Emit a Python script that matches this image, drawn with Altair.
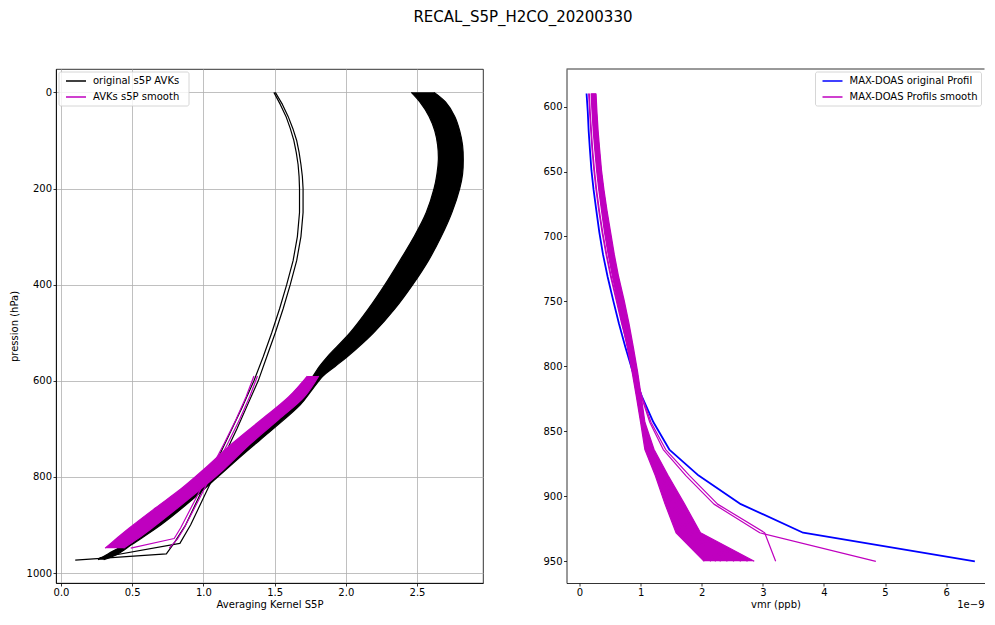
import altair as alt
import pandas as pd

# ---------------- left panel: averaging kernels ----------------
# dense bundle of original S5P AVKs (left and right envelope of the bundle)
band_p = [0, 20, 50, 80, 110, 140, 170, 200, 250, 300, 350, 400, 450, 500, 550, 570, 590,
          620, 650, 700, 750, 800, 850, 900, 940, 960, 972]
band_lo = [2.46, 2.52, 2.585, 2.625, 2.645, 2.65, 2.64, 2.62, 2.565, 2.48, 2.38, 2.275, 2.16, 2.03, 1.87, 1.815,
           1.77, 1.70, 1.62, 1.44, 1.24, 1.05, 0.86, 0.65, 0.45, 0.33, 0.26]
band_hi = [2.62, 2.70, 2.765, 2.80, 2.82, 2.825, 2.82, 2.80, 2.745, 2.67, 2.58, 2.47, 2.345, 2.195, 2.01, 1.925,
           1.84, 1.76, 1.68, 1.49, 1.29, 1.10, 0.91, 0.70, 0.50, 0.40, 0.30]

# two separate original AVKs
thinA_p = [0, 25, 50, 75, 100, 125, 150, 175, 200, 250, 300, 350, 400, 450, 500, 550, 600, 650, 700, 750,
           800, 850, 900, 935, 960, 973]
thinA_x = [1.495, 1.54, 1.58, 1.61, 1.635, 1.652, 1.665, 1.672, 1.675, 1.675, 1.66, 1.63, 1.585, 1.535, 1.48,
           1.42, 1.355, 1.28, 1.20, 1.12, 1.035, 0.955, 0.875, 0.80, 0.74, 0.10]
thinB_p = [0, 25, 50, 75, 100, 125, 150, 175, 200, 250, 300, 350, 400, 450, 500, 550, 600, 650, 700, 750,
           800, 850, 900, 938, 968]
thinB_x = [1.505, 1.555, 1.595, 1.628, 1.655, 1.672, 1.685, 1.695, 1.70, 1.70, 1.685, 1.655, 1.61, 1.56, 1.505,
           1.445, 1.385, 1.31, 1.235, 1.155, 1.07, 0.99, 0.91, 0.835, 0.27]

# smoothed AVKs on the MAX-DOAS grid (envelope of the dense bundle)
sband_p = [590, 633, 680, 731, 785, 823, 864, 906, 928, 948]
sband_lo = [1.73, 1.60, 1.41, 1.20, 1.00, 0.85, 0.665, 0.48, 0.39, 0.31]
sband_hi = [1.81, 1.71, 1.53, 1.33, 1.14, 0.99, 0.82, 0.64, 0.54, 0.44]

sthin_p = [590, 633, 680, 731, 785, 843, 906, 928, 948]
sthin1_x = [1.355, 1.30, 1.23, 1.145, 1.05, 0.95, 0.84, 0.795, 0.49]
sthin2_x = [1.38, 1.325, 1.255, 1.17, 1.075, 0.975, 0.865, 0.82, 0.76]

# ---------------- right panel: MAX-DOAS profiles (x 1e-9) ----------------
md_p = [590, 604, 619, 633, 649, 664, 680, 697, 714, 731, 749, 767, 785, 804, 823, 843, 864, 884, 906, 928, 950]
orig_vmr = [0.115, 0.135, 0.15, 0.17, 0.195, 0.23, 0.275, 0.325, 0.385, 0.46, 0.55, 0.645, 0.75, 0.87, 1.02, 1.21,
            1.47, 1.95, 2.64, 3.66, 6.47]
sm_o1 = [0.15, 0.165, 0.185, 0.205, 0.235, 0.27, 0.315, 0.37, 0.435, 0.51, 0.60, 0.69, 0.79, 0.89, 1.01, 1.15,
         1.37, 1.74, 2.20, 2.95, 4.85]
sm_o2 = [0.16, 0.175, 0.195, 0.215, 0.245, 0.28, 0.325, 0.38, 0.445, 0.52, 0.61, 0.70, 0.80, 0.90, 1.02, 1.17,
         1.41, 1.80, 2.26, 3.03, 3.21]
sm_m1 = [.19, .205, .225, .25, .28, .315, .36, .41, .47, .54, .62, .70, .78, .86, .93, 1.00, 1.07, 1.24, 1.40, 1.58, 2.04]
sm_m2 = [.20, .215, .235, .26, .29, .325, .37, .42, .48, .55, .635, .715, .79, .87, .94, 1.01, 1.09, 1.265, 1.44, 1.62, 2.15]
sm_m3 = [.21, .225, .245, .27, .30, .335, .38, .435, .495, .565, .65, .73, .805, .88, .95, 1.02, 1.11, 1.29, 1.48, 1.67, 2.23]
sm_m4 = [.22, .235, .255, .28, .31, .345, .39, .445, .505, .575, .66, .74, .815, .895, .96, 1.025, 1.13, 1.32, 1.52, 1.72, 2.31]
sm_m5 = [.23, .245, .265, .29, .32, .355, .405, .46, .52, .59, .675, .755, .83, .905, .97, 1.035, 1.145, 1.345, 1.56, 1.77, 2.42]
sm_m6 = [.24, .255, .275, .30, .33, .37, .415, .47, .53, .60, .69, .77, .84, .915, .98, 1.045, 1.165, 1.37, 1.60, 1.82, 2.53]
sm_m7 = [.25, .265, .285, .31, .34, .38, .43, .485, .545, .615, .70, .78, .855, .93, .99, 1.05, 1.185, 1.40, 1.64, 1.87, 2.64]
sm_m8 = [.26, .275, .295, .32, .35, .39, .44, .495, .555, .625, .715, .795, .865, .94, 1.00, 1.06, 1.20, 1.425, 1.68, 1.93, 2.75]
sm_m9 = [.27, .285, .305, .33, .36, .40, .45, .51, .57, .64, .73, .81, .88, .95, 1.01, 1.07, 1.22, 1.45, 1.72, 1.98, 2.86]

x_ticks_l = [0.0, 0.5, 1.0, 1.5, 2.0, 2.5]
y_ticks_l = [0, 200, 400, 600, 800, 1000]
x_ticks_r = [0, 1, 2, 3, 4, 5, 6]
y_ticks_r = [600, 650, 700, 750, 800, 850, 900, 950]

S_ORIG = "original s5P AVKs"
S_SMOOTH = "AVKs s5P smooth"
S_MD = "MAX-DOAS original Profil"
S_MDS = "MAX-DOAS Profils smooth"
MAG = "#bf00bf"
BLUE = "#0000ff"
FONT = "DejaVu Sans"

WL, WR, H = 427, 418, 514


def rows(series, ident, ps, xs):
    return [{"series": series, "id": ident, "p": p, "x": x} for p, x in zip(ps, xs)]


def one():
    return pd.DataFrame({"k": [0]})


def legend_layers(x0, w, entries):
    """matplotlib-like legend box drawn inside the plot (pixel offsets)."""
    layers = [alt.Chart(one()).mark_rect(fill="white", fillOpacity=0.8, stroke="#cccccc",
                                         strokeWidth=0.8, cornerRadius=2).encode(
        x=alt.value(x0), x2=alt.value(x0 + w), y=alt.value(3), y2=alt.value(37))]
    for i, (label, col) in enumerate(entries):
        yy = 12 + 16 * i
        layers.append(alt.Chart(one()).mark_rule(color=col, strokeWidth=1.5).encode(
            x=alt.value(x0 + 7), x2=alt.value(x0 + 27), y=alt.value(yy)))
        layers.append(alt.Chart(one()).mark_text(text=label, align="left", baseline="middle", font=FONT,
                                                 fontSize=10, color="black").encode(
            x=alt.value(x0 + 34), y=alt.value(yy)))
    return layers


black_lines = pd.DataFrame(
    rows(S_ORIG, "lo", band_p, band_lo) + rows(S_ORIG, "hi", band_p, band_hi))
black_thin = pd.DataFrame(rows(S_ORIG, "A", thinA_p, thinA_x) + rows(S_ORIG, "B", thinB_p, thinB_x))
mag_lines = pd.DataFrame(
    rows(S_SMOOTH, "slo", sband_p, sband_lo) + rows(S_SMOOTH, "shi", sband_p, sband_hi))
mag_thin = pd.DataFrame(rows(S_SMOOTH, "s1", sthin_p, sthin1_x) + rows(S_SMOOTH, "s2", sthin_p, sthin2_x))
band_df = pd.DataFrame({"p": band_p, "lo": band_lo, "hi": band_hi})
sband_df = pd.DataFrame({"p": sband_p, "lo": sband_lo, "hi": sband_hi})

xs_l = alt.Scale(domain=[-0.035, 2.9635], nice=False, zero=False)
ys_l = alt.Scale(domain=[-48.6, 1020.5], reverse=True, nice=False, zero=False)
ax_xl = alt.Axis(values=x_ticks_l, format=".1f", title="Averaging Kernel S5P", grid=True)
ax_yl = alt.Axis(values=y_ticks_l, format="d", title="pression (hPa)", grid=True, titlePadding=7)


def XL(f):
    return alt.X(f, type="quantitative", scale=xs_l, axis=ax_xl)


def YL(f):
    return alt.Y(f, type="quantitative", scale=ys_l, axis=ax_yl)


color_l = alt.Color("series:N", scale=alt.Scale(domain=[S_ORIG, S_SMOOTH], range=["black", MAG]), legend=None)

area_black = alt.Chart(band_df).mark_area(orient="horizontal", color="black", interpolate="catmull-rom").encode(
    y=YL("p"), x=XL("lo"), x2="hi")
line_black = alt.Chart(black_lines).mark_line(strokeWidth=1.2, interpolate="catmull-rom").encode(
    x=XL("x"), y=YL("p"), color=color_l, detail="id:N", order="p:Q")
thin_black = alt.Chart(black_thin).mark_line(strokeWidth=1.2, strokeJoin="round").encode(
    x=XL("x"), y=YL("p"), color=color_l, detail="id:N", order="p:Q")
area_mag = alt.Chart(sband_df).mark_area(orient="horizontal", color=MAG, interpolate="catmull-rom").encode(
    y=YL("p"), x=XL("lo"), x2="hi")
line_mag = alt.Chart(mag_lines).mark_line(strokeWidth=1.2, interpolate="catmull-rom").encode(
    x=XL("x"), y=YL("p"), color=color_l, detail="id:N", order="p:Q")
thin_mag = alt.Chart(mag_thin).mark_line(strokeWidth=1.2, strokeJoin="round").encode(
    x=XL("x"), y=YL("p"), color=color_l, detail="id:N", order="p:Q")

left = alt.layer(area_black, line_black, thin_black, area_mag, line_mag, thin_mag,
                 *legend_layers(3, 130, [(S_ORIG, "black"), (S_SMOOTH, MAG)])).properties(
    width=WL, height=H, view=alt.ViewBackground(stroke="black", strokeWidth=0.8))

# ---------------- right panel ----------------
blue_df = pd.DataFrame(rows(S_MD, "orig", md_p, orig_vmr))
sm_rows = []
for name, vals in [("m1", sm_m1), ("m2", sm_m2), ("m3", sm_m3), ("m4", sm_m4), ("m5", sm_m5),
                   ("m6", sm_m6), ("m7", sm_m7), ("m8", sm_m8), ("m9", sm_m9),
                   ("o1", sm_o1), ("o2", sm_o2)]:
    sm_rows += rows(S_MDS, name, md_p, vals)
sm_df = pd.DataFrame(sm_rows)
fan_df = pd.DataFrame({"p": md_p, "lo": sm_m1, "hi": sm_m9})

xs_r = alt.Scale(domain=[-0.213, 6.628], nice=False, zero=False)
ys_r = alt.Scale(domain=[571.1, 966.7], reverse=True, nice=False, zero=False)
ax_xr = alt.Axis(values=x_ticks_r, format="d", title="vmr (ppb)", grid=False)
ax_yr = alt.Axis(values=y_ticks_r, format="d", title=None, grid=False)


def XR(f):
    return alt.X(f, type="quantitative", scale=xs_r, axis=ax_xr)


def YR(f):
    return alt.Y(f, type="quantitative", scale=ys_r, axis=ax_yr)


color_r = alt.Color("series:N", scale=alt.Scale(domain=[S_MD, S_MDS], range=[BLUE, MAG]), legend=None)

blue_line = alt.Chart(blue_df).mark_line(strokeWidth=1.8, strokeJoin="round").encode(
    x=XR("x"), y=YR("p"), color=color_r, detail="id:N", order="p:Q")
fan_area = alt.Chart(fan_df).mark_area(orient="horizontal", color=MAG).encode(
    y=YR("p"), x=XR("lo"), x2="hi")
sm_line = alt.Chart(sm_df).mark_line(strokeWidth=1.2, strokeJoin="round").encode(
    x=XR("x"), y=YR("p"), color=color_r, detail="id:N", order="p:Q")
top_spine = alt.Chart(one()).mark_rule(color="black", strokeWidth=0.8).encode(
    x=alt.value(0), x2=alt.value(WR), y=alt.value(0))
offset_txt = alt.Chart(one()).mark_text(
    text="1e\u22129", align="right", baseline="middle", font=FONT, fontSize=10, color="black").encode(
    x=alt.value(WR), y=alt.value(H + 22))

right = alt.layer(blue_line, fan_area, sm_line, top_spine, offset_txt,
                  *legend_layers(WR - 169, 166, [(S_MD, BLUE), (S_MDS, MAG)])).properties(
    width=WR, height=H, view=alt.ViewBackground(stroke="transparent"))

chart = alt.hconcat(left, right, spacing=58.5).resolve_scale(
    color="independent", x="independent", y="independent").properties(
    title=alt.TitleParams("RECAL_S5P_H2CO_20200330", font=FONT, fontSize=15, fontWeight="normal",
                          color="black", anchor="middle", dx=26, offset=43),
    padding={"left": 0, "top": 2, "right": 0, "bottom": 0},
).configure_axis(
    labelFont=FONT, labelFontSize=10, labelColor="black", tickColor="black", tickSize=3,
    tickWidth=0.8, domainColor="black", domainWidth=0.8, labelPadding=1.5,
    titleFont=FONT, titleFontSize=10, titleFontWeight="normal", titleColor="black", titlePadding=1.5,
    gridColor="#b0b0b0", gridWidth=0.8, gridOpacity=1,
).configure_view(stroke="black", strokeWidth=0.8)

chart.save("out.html", embed_options={"renderer": "svg", "actions": False})
